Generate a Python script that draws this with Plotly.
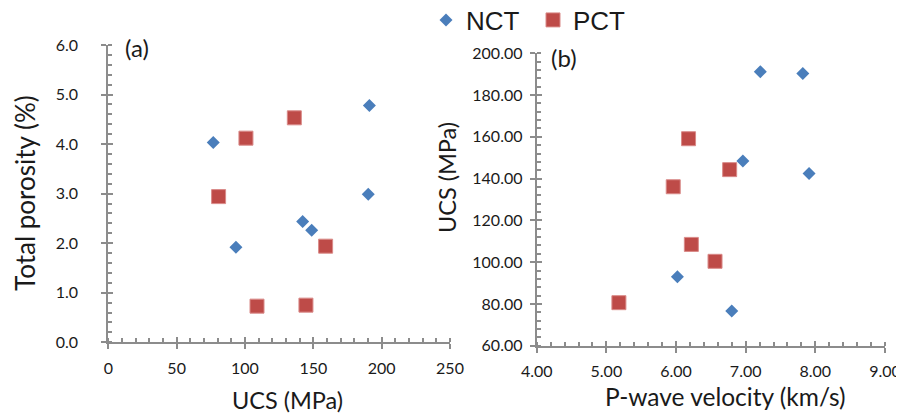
import plotly.graph_objects as go

# Panel (a): UCS vs total porosity
nct_ucs_a = [76.8, 93.4, 191.0, 190.2, 142.2, 148.8]
nct_por_a = [4.03, 1.92, 4.78, 2.99, 2.44, 2.26]
pct_ucs_a = [100.7, 136.1, 80.7, 159.0, 108.8, 144.6]
pct_por_a = [4.12, 4.53, 2.94, 1.94, 0.73, 0.75]

# Panel (b): P-wave velocity vs UCS
nct_vp_b = [7.21, 7.82, 6.96, 7.91, 6.02, 6.80]
nct_ucs_b = [191.2, 190.3, 148.4, 142.4, 93.0, 76.6]
pct_vp_b = [6.18, 6.77, 5.96, 6.22, 6.56, 5.18]
pct_ucs_b = [159.1, 144.3, 136.1, 108.5, 100.4, 80.6]

series_names = ["NCT", "PCT"]
panel_labels = ["(a)", "(b)"]

BLUE = "#4A7EBB"
RED = "#BE4B48"
AXC = "#8C8C8C"
TXT = "#1a1a1a"
TICKF = dict(family="Lato", size=16, color=TXT)

# page body has an 8px margin; figure sized to fit the window
W, H, OFF = 896, 406, 8
def px(x):
    return (x - OFF) / W
def py(y):
    return 1 - (y - OFF) / H

fig = go.Figure()
fig.add_trace(go.Scatter(x=nct_ucs_a, y=nct_por_a, mode="markers", name=series_names[0],
                         marker=dict(symbol="diamond", size=10, color=BLUE), xaxis="x", yaxis="y"))
fig.add_trace(go.Scatter(x=pct_ucs_a, y=pct_por_a, mode="markers", name=series_names[1],
                         marker=dict(symbol="square", size=14, color=RED,
                                     line=dict(color="#D98A88", width=1)), xaxis="x", yaxis="y"))
fig.add_trace(go.Scatter(x=nct_vp_b, y=nct_ucs_b, mode="markers", name=series_names[0], showlegend=False,
                         marker=dict(symbol="diamond", size=10, color=BLUE), xaxis="x2", yaxis="y2"))
fig.add_trace(go.Scatter(x=pct_vp_b, y=pct_ucs_b, mode="markers", name=series_names[1], showlegend=False,
                         marker=dict(symbol="square", size=14, color=RED,
                                     line=dict(color="#D98A88", width=1)), xaxis="x2", yaxis="y2"))
# invisible traces to activate the overlay axes (inside half of cross ticks)
fig.add_trace(go.Scatter(x=[None], y=[None], showlegend=False, hoverinfo="skip", xaxis="x3", yaxis="y3"))
fig.add_trace(go.Scatter(x=[None], y=[None], showlegend=False, hoverinfo="skip", xaxis="x4", yaxis="y4"))

dA_x = [px(108.3), px(450)]
dA_y = [py(342.3), py(45)]
dB_x = [px(536.7), px(885)]
dB_y = [py(345.7), py(53.3)]

def ax(domain, rng, dtick, fmt, anchor, minor_dtick, standoff=2):
    return dict(domain=domain, range=rng, dtick=dtick, tick0=rng[0], tickformat=fmt,
                anchor=anchor, showgrid=False, zeroline=False, showline=True, automargin=False,
                linecolor=AXC, linewidth=2, ticks="outside", ticklen=5, tickwidth=2,
                tickcolor=AXC, tickfont=TICKF, ticklabelstandoff=standoff,
                minor=dict(ticks="inside", ticklen=4, tickwidth=1.5, tickcolor=AXC,
                           dtick=minor_dtick, tick0=rng[0], showgrid=False))

def ov(domain, rng, dtick, overlay, anchor, side):
    return dict(domain=domain, range=rng, dtick=dtick, tick0=rng[0], overlaying=overlay,
                anchor=anchor, side=side, showgrid=False, zeroline=False, showline=False,
                automargin=False,
                ticks="inside", ticklen=5, tickwidth=2, tickcolor=AXC, showticklabels=False)

fig.update_layout(
    width=W, height=H,
    margin=dict(l=0, r=0, t=0, b=0, autoexpand=False),
    paper_bgcolor="white", plot_bgcolor="white",
    showlegend=True,
    legend=dict(orientation="h", x=px(426), y=py(20), xanchor="left", yanchor="middle",
                font=dict(family="Liberation Sans", size=26, color=TXT),
                bgcolor="rgba(0,0,0,0)", itemwidth=30, tracegroupgap=0,
                entrywidth=62, entrywidthmode="pixels"),
    xaxis=ax(dA_x, [0, 250], 50, "d", "y", 10, standoff=5),
    yaxis=ax(dA_y, [0, 6], 1, ".1f", "x", 0.2, standoff=20),
    xaxis2=ax(dB_x, [4, 9], 1, ".2f", "y2", 0.2, standoff=5),
    yaxis2=ax(dB_y, [60, 200], 20, ".2f", "x2", 4, standoff=4),
    xaxis3=ov(dA_x, [0, 250], 50, "x", "y3", "bottom"),
    yaxis3=ov(dA_y, [0, 6], 1, "y", "x3", "left"),
    xaxis4=ov(dB_x, [4, 9], 1, "x2", "y4", "bottom"),
    yaxis4=ov(dB_y, [60, 200], 20, "y2", "x4", "left"),
)

ann = [
    dict(text=panel_labels[0], x=px(137), y=py(48), font=dict(family="Lato", size=24, color=TXT)),
    dict(text=panel_labels[1], x=px(564), y=py(57), font=dict(family="Lato", size=24, color=TXT)),
    dict(text="UCS (MPa)", x=px(287), y=py(400), font=dict(family="Lato", size=23.5, color=TXT)),
    dict(text="P-wave velocity (km/s)", x=px(725), y=py(396), font=dict(family="Lato", size=24.5, color=TXT)),
    dict(text="Total porosity (%)", x=px(25), y=py(193), font=dict(family="Lato", size=26, color=TXT),
         textangle=-90),
    dict(text="UCS (MPa)", x=px(447), y=py(178), font=dict(family="Lato", size=23.5, color=TXT),
         textangle=-90),
]
for a in ann:
    fig.add_annotation(xref="paper", yref="paper", xanchor="center", yanchor="middle",
                       showarrow=False, **a)

fig.write_html("out.html")
